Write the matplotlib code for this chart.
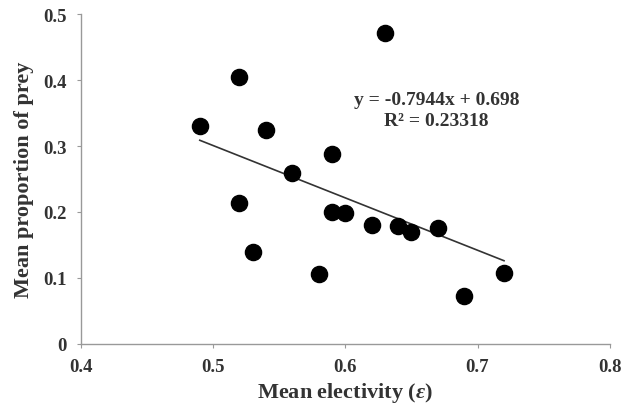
import numpy as np
import matplotlib
matplotlib.use("Agg")
import matplotlib.pyplot as plt

# data
electivity = [0.49, 0.52, 0.54, 0.63, 0.59, 0.56, 0.52, 0.59, 0.60, 0.62,
              0.64, 0.65, 0.67, 0.53, 0.58, 0.72, 0.69]
proportion = [0.330, 0.404, 0.325, 0.471, 0.288, 0.259, 0.214, 0.200, 0.198, 0.180,
              0.179, 0.169, 0.176, 0.139, 0.106, 0.108, 0.073]
slope, intercept = -0.7944, 0.698
r2_text = "0.23318"

x_ticks = [0.4, 0.5, 0.6, 0.7, 0.8]
y_ticks = [0, 0.1, 0.2, 0.3, 0.4, 0.5]

plt.rcParams['font.family'] = ['Liberation Serif', 'DejaVu Serif']
plt.rcParams['font.weight'] = 'bold'
plt.rcParams['mathtext.fontset'] = 'custom'
plt.rcParams['mathtext.it'] = 'Liberation Serif:italic:bold'
plt.rcParams['mathtext.rm'] = 'Liberation Serif:bold'

fig = plt.figure(figsize=(6.21, 4.10), dpi=100)
ax = fig.add_axes([0.130, 0.159, 0.852, 0.804])

ax.scatter(electivity, proportion, s=135, color='black', zorder=3)

xs = np.array([min(electivity), max(electivity)])
ax.plot(xs, slope * xs + intercept, color='#333333', lw=1.2, zorder=2)

ax.text(0.669, 0.355, f"y = {slope}x + {intercept}\nR² = {r2_text}",
        ha='center', va='center', fontsize=14, fontweight='bold',
        color='#333333', linespacing=1.3)

ax.set_xlim(0.4, 0.8)
ax.set_ylim(0, 0.5)
ax.set_xticks(x_ticks)
ax.set_xticklabels([f"{t:g}" for t in x_ticks])
ax.set_yticks(y_ticks)
ax.set_yticklabels([f"{t:g}" for t in y_ticks])

for side in ['top', 'right']:
    ax.spines[side].set_visible(False)
for side in ['left', 'bottom']:
    ax.spines[side].set_color('#999999')
    ax.spines[side].set_linewidth(1.0)

ax.tick_params(axis='both', colors='#999999', labelcolor='#333333',
               labelsize=13.5, length=3)
ax.tick_params(axis='x', pad=7)
ax.tick_params(axis='y', pad=7)
for lab in ax.get_xticklabels() + ax.get_yticklabels():
    lab.set_fontweight('bold')

ax.set_xlabel(r'Mean electivity ($\mathit{\varepsilon}$)', fontsize=16, fontweight='bold',
              color='#333333', labelpad=4)
ax.set_ylabel('Mean proportion of prey', fontsize=16, fontweight='bold',
              color='#333333', labelpad=7)

fig.savefig('out.png', dpi=100)
